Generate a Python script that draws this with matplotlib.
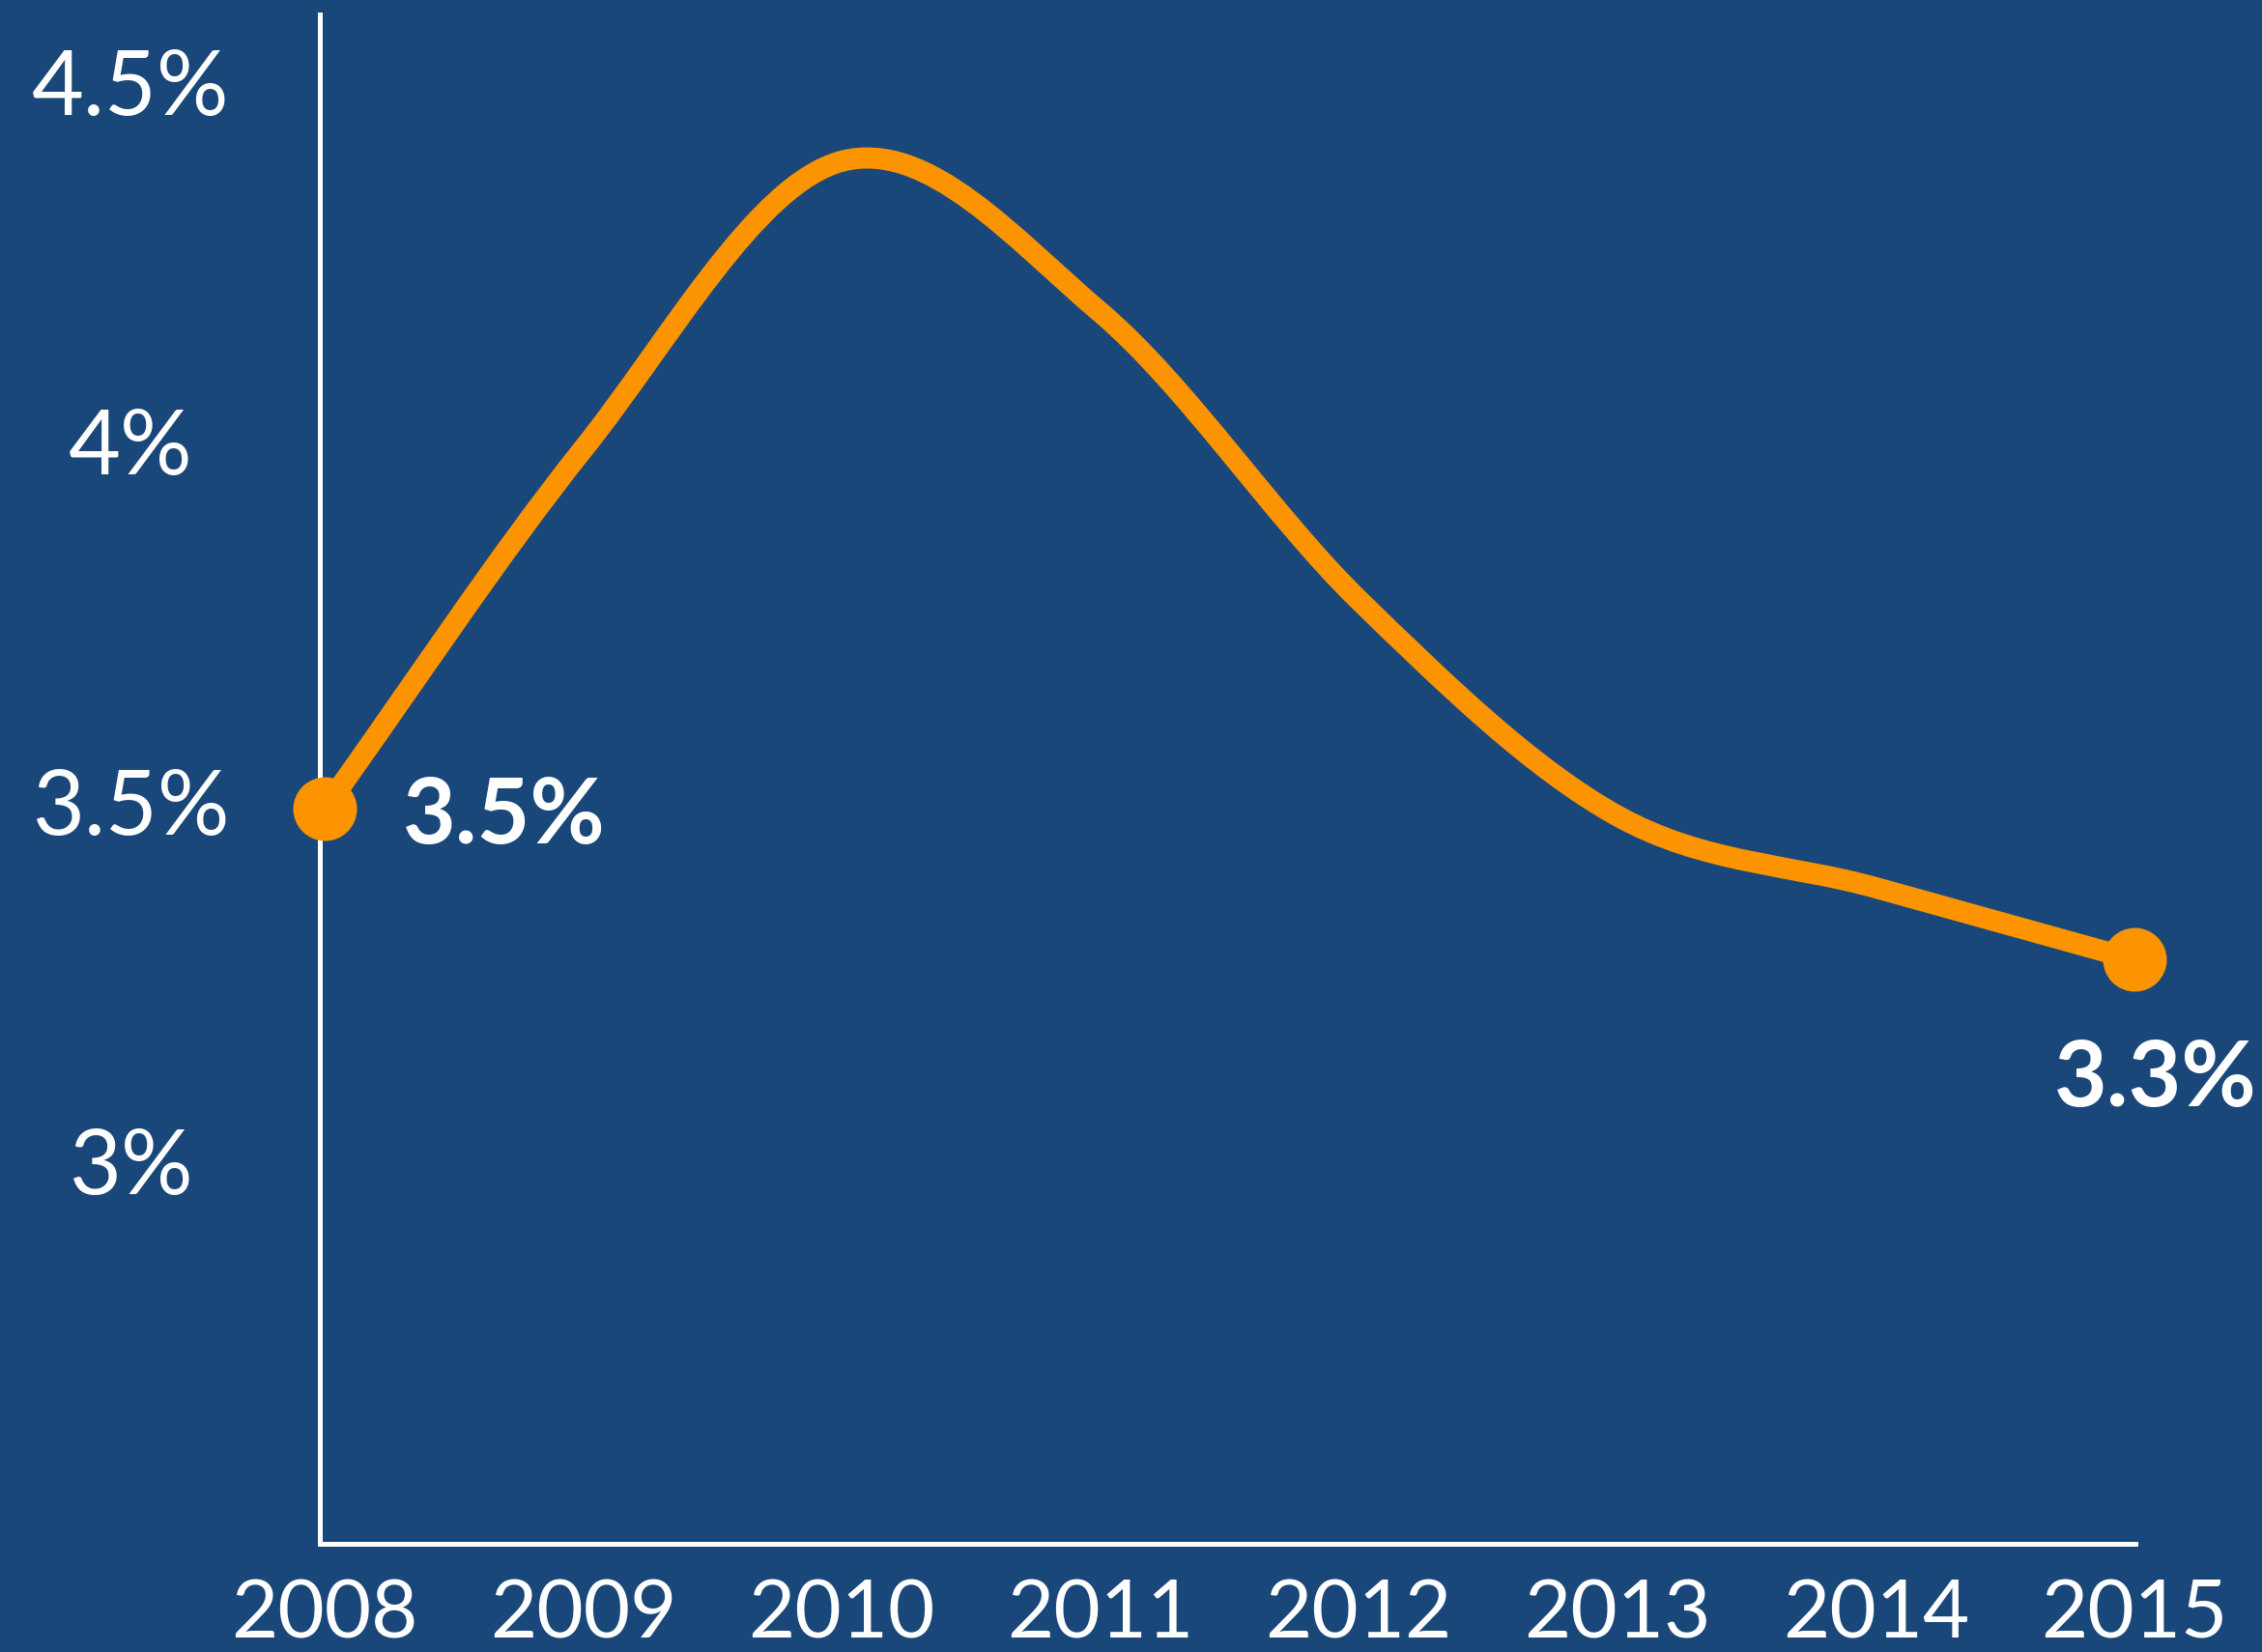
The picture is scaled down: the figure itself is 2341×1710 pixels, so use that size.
import matplotlib
matplotlib.use("Agg")
import matplotlib.pyplot as plt
from matplotlib.path import Path
from matplotlib.patches import PathPatch

years = [2008, 2009, 2010, 2011, 2012, 2013, 2014, 2015]
rate = [3.49, 3.99, 4.39, 4.18, 3.78, 3.48, 3.38, 3.28]
end_labels = ["3.5%", "3.3%"]
y_ticks = [3, 3.5, 4, 4.5]
y_tick_labels = ["3%", "3.5%", "4%", "4.5%"]

bg = "#1a4779"
orange = "#fb9400"

plt.rcParams['font.family'] = ['Lato', 'DejaVu Sans']

fig = plt.figure(figsize=(23.41, 17.10), dpi=100, facecolor=bg)
ax = fig.add_axes([0.14139, 0.0655, 0.80265, 0.92573], facecolor=bg)


def smooth_path(xs, ys):
    # catmull-rom style tangents turned into cubic bezier segments
    n = len(xs)
    m = []
    for i in range(n):
        if i == 0:
            m.append((ys[1] - ys[0]) / (xs[1] - xs[0]))
        elif i == n - 1:
            m.append((ys[-1] - ys[-2]) / (xs[-1] - xs[-2]))
        else:
            m.append((ys[i + 1] - ys[i - 1]) / (xs[i + 1] - xs[i - 1]))
    verts = [(xs[0], ys[0])]
    codes = [Path.MOVETO]
    for i in range(n - 1):
        h = xs[i + 1] - xs[i]
        verts += [(xs[i] + h / 3, ys[i] + m[i] * h / 3),
                  (xs[i + 1] - h / 3, ys[i + 1] - m[i + 1] * h / 3),
                  (xs[i + 1], ys[i + 1])]
        codes += [Path.CURVE4] * 3
    return Path(verts, codes)


patch = PathPatch(smooth_path(years, rate), facecolor="none", edgecolor=orange,
                  lw=15.8, capstyle="round", joinstyle="round", zorder=3, clip_on=False)
ax.add_patch(patch)

ax.plot([years[0], years[-1]], [rate[0], rate[-1]], "o", color=orange,
        markersize=47.5, markeredgewidth=0, zorder=4, clip_on=False)

ax.annotate(end_labels[0], (years[0], rate[0]), xytext=(58, -26),
            textcoords="offset points", ha="left", va="baseline",
            color="white", fontsize=68, fontweight="bold")
ax.annotate(end_labels[1], (years[-1], rate[-1]), xytext=(16, -109),
            textcoords="offset points", ha="center", va="baseline",
            color="white", fontsize=68, fontweight="bold")

ax.set_xlim(2007.981, 2015.004)
ax.set_ylim(2.468, 4.594)

ax.set_xticks(years, labels=[str(y) for y in years])
ax.set_yticks(y_ticks, labels=y_tick_labels)
ax.tick_params(axis="x", length=0, pad=26, labelsize=60, labelcolor="white")
ax.tick_params(axis="y", length=0, pad=141, labelsize=67, labelcolor="white")
for lab in ax.get_yticklabels():
    lab.set_horizontalalignment("center")

for side in ["top", "right"]:
    ax.spines[side].set_visible(False)
for side in ["left", "bottom"]:
    ax.spines[side].set_color("white")
    ax.spines[side].set_linewidth(3.6)

fig.savefig("out.png", dpi=100, facecolor=bg)
